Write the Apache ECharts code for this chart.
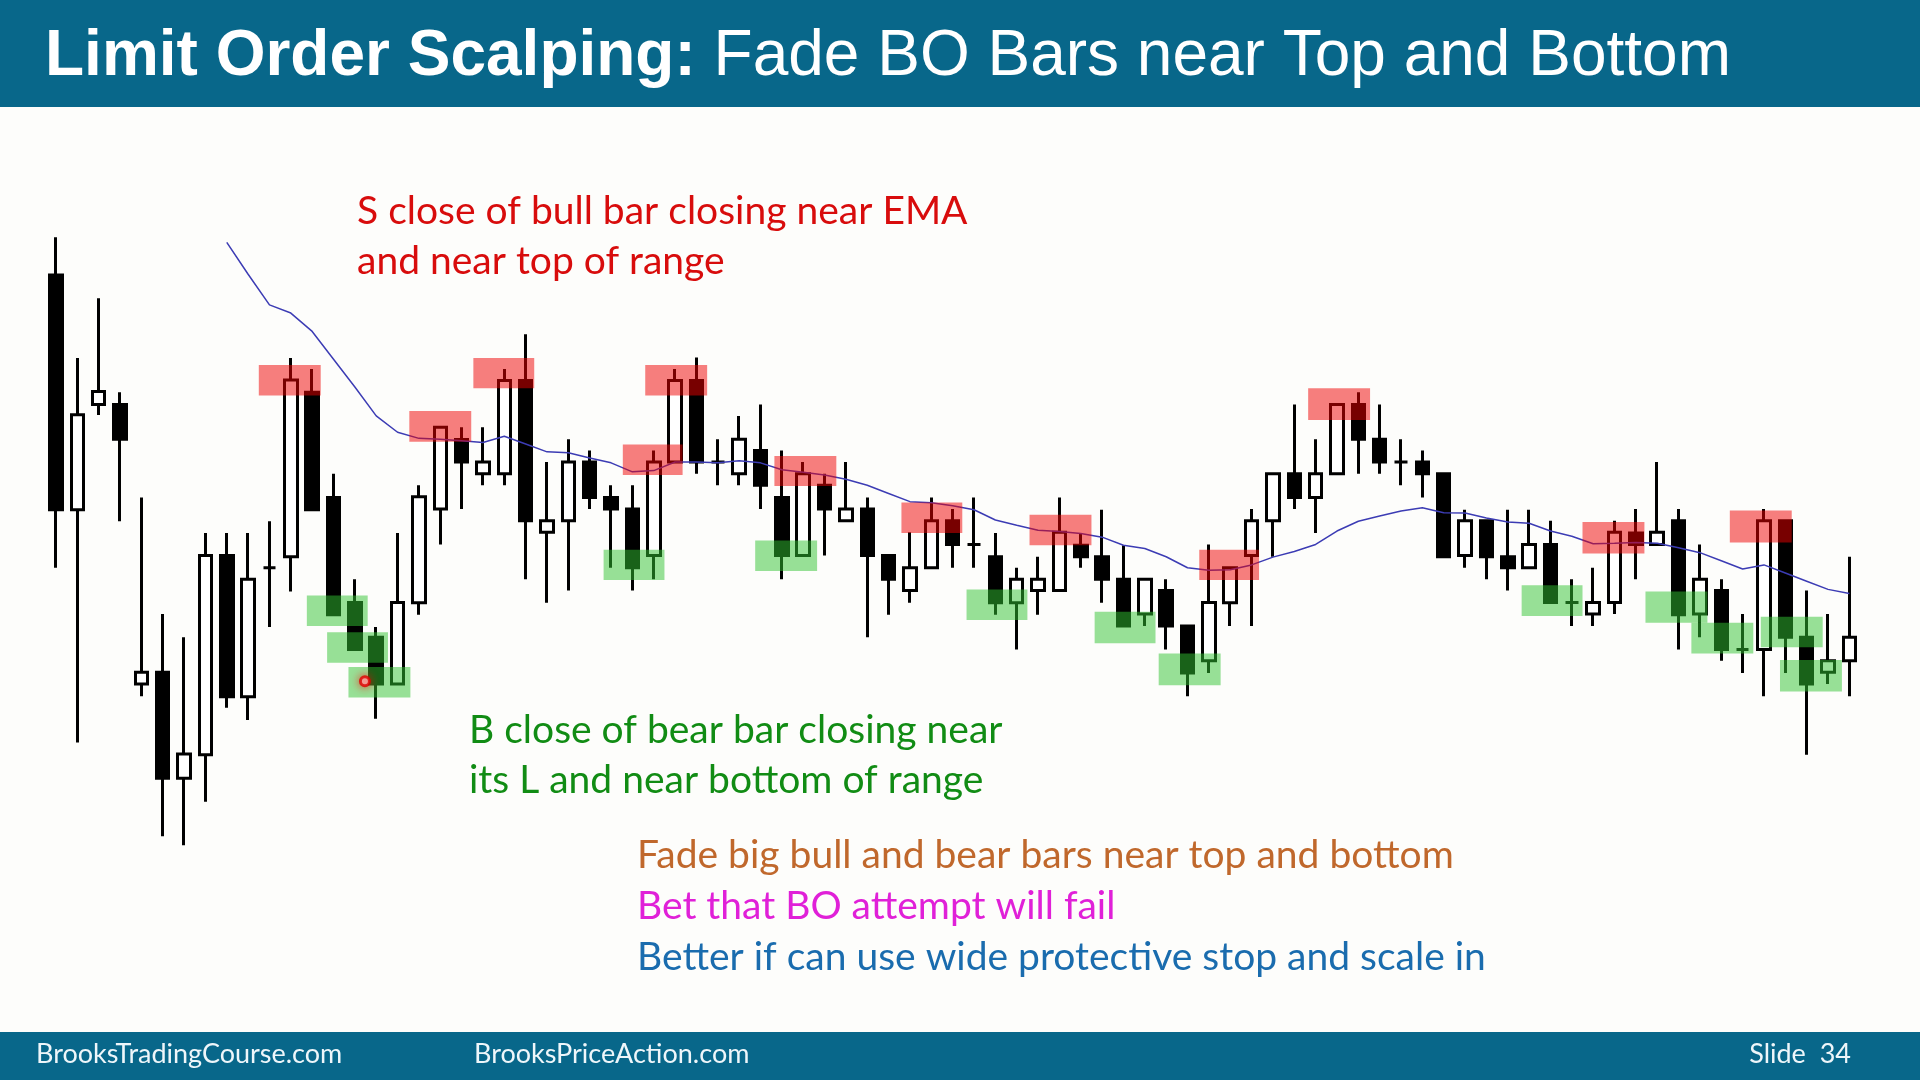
<!DOCTYPE html>
<html>
<head>
<meta charset="utf-8">
<title>Limit Order Scalping</title>
<script src="https://cdn.jsdelivr.net/npm/echarts@6.0.0/dist/echarts.min.js"></script>
<style>
  html, body { margin: 0; padding: 0; background: #fdfdfb; }
  #chart { width: 1920px; height: 1080px; }
</style>
</head>
<body>
<div id="chart"></div>
<script>
// bars (arbitrary price units)
const opens = [146.5, 89, 114.8, 114.8, 46.3, 49.2, 23.2, 29, 77.8, 43.2,
  74.8, 77.5, 117.8, 92, 66.3, 57.8, 46.3, 66.2, 89.2, 106.2,
  97.8, 97.8, 120.7, 83.5, 86.3, 100.7, 92, 89.2, 77.8, 100.7,
  120.7, 100.7, 97.8, 103.5, 92, 77.8, 95, 86.3, 89.2, 77.8,
  69.2, 74.8, 86.3, 80.5, 77.5, 66.2, 69.2, 69.2, 80.3, 77.5,
  72, 63.5, 69.2, 60.5, 52, 66.2, 77.8, 86.3, 97.8, 92,
  97.8, 114.8, 106.3, 100.7, 100.7, 97.8, 77.8, 86.3, 77.5, 74.8,
  80.5, 66.3, 63.5, 66.3, 83.3, 80.5, 86.3, 63.5, 69.2, 54.8,
  54.8, 86.3, 57.8, 49.2, 52];
const closes = [89, 112.3, 118, 106.3, 49.2, 23.2, 29.2, 77.8, 43.2, 72,
  74.8, 120.8, 89, 63.3, 54.8, 46.3, 66.3, 92.2, 109.2, 100.7,
  100.7, 120.7, 86.3, 86.3, 100.7, 92, 89.2, 74.8, 100.7, 120.7,
  100.7, 100.7, 106.3, 95, 77.8, 97.8, 89.2, 89.2, 77.8, 72,
  74.8, 86.3, 80.5, 80.5, 66.2, 72, 72, 83.5, 77.5, 72,
  60.5, 72, 60.5, 49, 66.3, 74.8, 86.3, 97.8, 92, 97.8,
  114.8, 106.3, 100.7, 100.7, 97.8, 77.5, 86.3, 77.5, 74.8, 80.5,
  66.3, 66.3, 66.3, 83.5, 80.5, 83.5, 63.3, 72, 54.8, 54.8,
  86.3, 57.8, 46.3, 52, 57.8];
const lows = [74.8, 32, 112.2, 86.2, 43.3, 9, 6.8, 17.5, 40.5, 37.5,
  60.3, 69, 89, 63.3, 54.8, 37.8, 46.3, 63.3, 80.5, 89.2,
  95, 95, 72, 66.2, 69.2, 89.2, 74.8, 69.2, 72, 100.7,
  97.8, 95, 95, 89.2, 72, 77.8, 77.8, 86.3, 57.8, 63.3,
  66.2, 74.8, 74.8, 74.8, 63.3, 54.8, 63.3, 69.2, 74.8, 66.2,
  60.5, 60.5, 54.8, 43.3, 49, 60.5, 60.5, 77.5, 89.2, 83.3,
  97.8, 97.8, 97.8, 95, 92, 77.5, 74.8, 72, 69.2, 74.8,
  66.3, 60.5, 60.5, 63.5, 72, 80.5, 54.8, 57.8, 52, 49,
  43.3, 49, 29, 46.3, 43.3];
const highs = [155.8, 126.2, 140.8, 117.8, 92, 63.5, 57.8, 83.3, 83.3, 83.3,
  86.2, 126.2, 123.5, 97.8, 72, 60.3, 83.3, 95, 109.2, 109.2,
  109.2, 123.5, 132, 100.7, 106.3, 103.5, 95, 95, 103.5, 123.5,
  126.3, 106.3, 112, 114.8, 103.5, 100.7, 97.8, 100.7, 92, 77.8,
  83.5, 92, 89.2, 92, 83.3, 74.8, 77.5, 92, 83.3, 89,
  80.3, 72, 72, 60.5, 80.5, 74.8, 89.2, 97.8, 114.8, 106.3,
  114.8, 117.8, 114.8, 106.3, 103.5, 97.8, 89, 86.3, 89, 89,
  86.3, 72, 74.8, 86.3, 89.2, 100.7, 89.2, 80.5, 72, 63.5,
  89.2, 86.3, 69.2, 63.5, 77.5];
const ema = [null, null, null, null, null, null, null, null,
  154.5, 146.7, 139.2, 137.2, 132.7, 125.9, 119.1, 112, 108, 106.5, 106.3, 105.9,
  105.5, 107, 105.1, 103.2, 103, 101.7, 100.5, 98.3, 98.6, 100.7,
  100.7, 100.5, 101, 100.5, 98.8, 98.2, 97.5, 96.5, 95, 93,
  91, 90.7, 90, 89, 86.5, 85.2, 84, 83.7, 83.2, 82.3,
  80.3, 79.5, 77.5, 74.8, 74.2, 74.3, 75.5, 77.4, 78.8, 80.5,
  83.8, 86.2, 87.5, 88.7, 89.5, 88.3, 88.2, 87, 86, 85.7,
  83.8, 82.5, 80.7, 80.8, 81, 80.8, 79.7, 78.5, 76.5, 74.5,
  75.5, 73.5, 71.5, 69.5, 68.5];

// highlight boxes: [from bar, to bar, top price, bottom price]
const sellBoxes = [
  [9.5, 12.4, 124.5, 117], [16.55, 19.45, 113.2, 105.7], [19.55, 22.4, 126.2, 118.8],
  [26.55, 29.35, 105, 97.5], [27.6, 30.5, 124.5, 117], [33.65, 36.55, 102.2, 94.8],
  [39.6, 42.45, 90.8, 83.3], [45.6, 48.5, 87.8, 80.3], [53.55, 56.35, 79.2, 71.8],
  [58.65, 61.55, 118.8, 111], [71.5, 74.4, 86, 78.3], [78.4, 81.3, 88.8, 81]
];
const buyBoxes = [
  [11.75, 14.6, 68, 60.5], [12.7, 15.55, 59, 51.5], [13.7, 16.6, 50.5, 43],
  [25.65, 28.5, 79.2, 71.8], [32.75, 35.65, 81.5, 74], [42.65, 45.5, 69.5, 62],
  [48.65, 51.5, 64, 56.3], [51.65, 54.55, 53.8, 46], [68.65, 71.5, 70.5, 63],
  [74.45, 77.35, 69, 61.3], [76.6, 79.5, 61.3, 53.8], [79.85, 82.75, 62.8, 55.3],
  [80.75, 83.65, 52.2, 44.5]
];
const cursorPoint = [[14.47, 47]];

const bars = opens.map((o, i) => i + 1);
const candles = opens.map((o, i) => [o, closes[i], lows[i], highs[i]]);

function boxRenderer(fill) {
    return function (params, api) {
        const p0 = api.coord([api.value(0), api.value(2)]);
        const p1 = api.coord([api.value(1), api.value(3)]);
        return {
            type: 'rect',
            shape: { x: p0[0], y: p0[1], width: p1[0] - p0[0], height: p1[1] - p0[1] },
            style: { fill: fill }
        };
    };
}

function noteText(left, top, text, color) {
    return {
        type: 'text', left: left, top: top - 18, z: 100,
        style: { text: text, fill: color, font: '39px Lato', textVerticalAlign: 'top' }
    };
}

function footerText(pos, text) {
    return Object.assign({ type: 'text', top: 1041, z: 100,
        style: { text: text, fill: '#eef6fa', font: '27px Lato' } }, pos);
}

const chart = echarts.init(document.getElementById('chart'));
chart.setOption({
    animation: false,
    backgroundColor: '#fdfdfb',
    grid: { left: 45.3, width: 1814.75, top: 56.73, height: 816.33 },
    xAxis: [
        { type: 'category', data: bars, show: false, boundaryGap: true },
        { type: 'value', min: -0.5, max: 84.5, show: false }
    ],
    yAxis: { type: 'value', min: 0, max: 200, show: false },
    series: [
        {
            type: 'candlestick',
            data: candles,
            barWidth: 13,
            z: 2,
            itemStyle: {
                color: '#ffffff', color0: '#000000',
                borderColor: '#000000', borderColor0: '#000000',
                borderColorDoji: '#000000', borderWidth: 3
            }
        },
        {
            type: 'line',
            data: ema,
            showSymbol: false,
            z: 3,
            lineStyle: { color: '#3c3cb4', width: 1.5 }
        },
        {
            type: 'custom',
            xAxisIndex: 1,
            data: sellBoxes,
            z: 5,
            encode: { x: [0, 1], y: [2, 3] },
            renderItem: boxRenderer('rgba(240, 0, 0, 0.5)')
        },
        {
            type: 'custom',
            xAxisIndex: 1,
            data: buyBoxes,
            z: 5,
            encode: { x: [0, 1], y: [2, 3] },
            renderItem: boxRenderer('rgba(50, 195, 50, 0.5)')
        },
        {
            type: 'scatter',
            xAxisIndex: 1,
            data: cursorPoint,
            z: 6,
            symbolSize: 9,
            itemStyle: {
                color: '#ffd0d0', borderColor: '#e00000', borderWidth: 3,
                shadowColor: 'rgba(255, 0, 0, 0.8)', shadowBlur: 10
            }
        }
    ],
    graphic: [
        { type: 'rect', left: 0, top: 0, z: 90, shape: { width: 1920, height: 107 }, style: { fill: '#08678a' } },
        {
            type: 'text', left: 45, top: 25, z: 100,
            style: {
                text: '{b|Limit Order Scalping: }{r|Fade BO Bars near Top and Bottom}',
                rich: {
                    b: { font: 'bold 64px "Liberation Sans"', fill: '#ffffff' },
                    r: { font: '64px "Liberation Sans"', fill: '#ffffff' }
                }
            }
        },
        { type: 'rect', left: 0, top: 1032, z: 90, shape: { width: 1920, height: 48 }, style: { fill: '#08678a' } },
        footerText({ left: 36 }, 'BrooksTradingCourse.com'),
        footerText({ left: 474 }, 'BrooksPriceAction.com'),
        footerText({ right: 69 }, 'Slide  34'),
        noteText(357, 210, 'S close of bull bar closing near EMA', '#d80c0c'),
        noteText(357, 260, 'and near top of range', '#d80c0c'),
        noteText(469, 729, 'B close of bear bar closing near', '#118c14'),
        noteText(469, 779, 'its L and near bottom of range', '#118c14'),
        noteText(637, 854, 'Fade big bull and bear bars near top and bottom', '#c0682c'),
        noteText(637, 905, 'Bet that BO attempt will fail', '#e020d8'),
        noteText(637, 956, 'Better if can use wide protective stop and scale in', '#1a6cae')
    ]
});
</script>
</body>
</html>
